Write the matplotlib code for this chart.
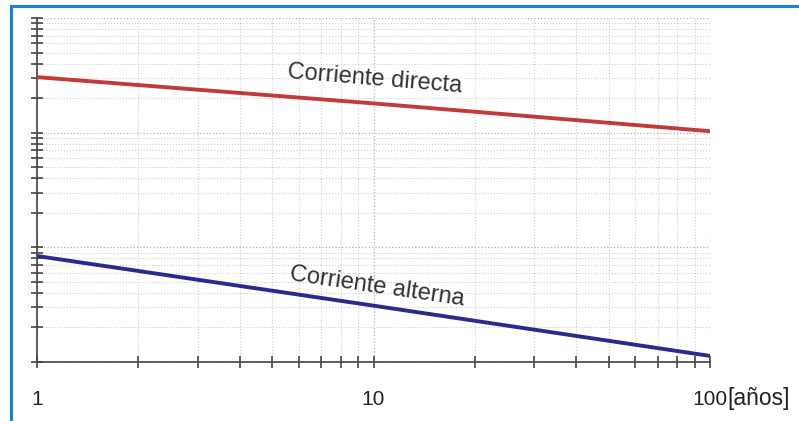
import matplotlib
matplotlib.use("Agg")
import matplotlib.pyplot as plt
from matplotlib.patches import Rectangle
from matplotlib.ticker import LogLocator, NullFormatter, FixedLocator, FixedFormatter

plt.rcParams['font.family'] = ['Liberation Sans', 'DejaVu Sans']

# Data (years, arbitrary log scale values)
years = [1, 10, 100]
directa = [305, 180, 103]
alterna = [8.4, 3.1, 1.13]
xtick_vals = [1, 10, 100]
xtick_labels = ["1", "10", "100"]
label_directa = "Corriente directa"
label_alterna = "Corriente alterna"
unit_label = "[años]"

W, H = 799, 421
fig = plt.figure(figsize=(W/100, H/100), dpi=100)
ax = fig.add_axes([37/W, 1-362/H, (710-37)/W, (362-18)/H])

ax.set_xscale('log')
ax.set_yscale('log')
ax.set_xlim(1, 100)
ax.set_ylim(1, 1000)

ax.plot(years, directa, color='#c23a3a', lw=2.8, solid_capstyle='butt', zorder=3)
ax.plot(years, alterna, color='#2a2a8c', lw=2.8, solid_capstyle='butt', zorder=3)

for s in ['top', 'right']:
    ax.spines[s].set_visible(False)
for s in ['left', 'bottom']:
    ax.spines[s].set_color('#444444')
    ax.spines[s].set_linewidth(1.2)

ax.xaxis.set_major_locator(FixedLocator(xtick_vals))
ax.xaxis.set_major_formatter(FixedFormatter(xtick_labels))
ax.xaxis.set_minor_locator(LogLocator(base=10, subs=range(2, 10)))
ax.xaxis.set_minor_formatter(NullFormatter())
ax.yaxis.set_major_locator(LogLocator(base=10))
ax.yaxis.set_minor_locator(LogLocator(base=10, subs=range(2, 10)))
ax.yaxis.set_major_formatter(NullFormatter())
ax.yaxis.set_minor_formatter(NullFormatter())

ax.tick_params(which='both', direction='inout', color='#444444', width=1.2)
ax.tick_params(axis='x', which='both', length=9, labelsize=15, labelcolor='#222222', pad=16)
ax.tick_params(axis='y', which='both', length=8)

ax.grid(which='major', color='#b0b0b0', lw=0.9, ls=':')
ax.grid(which='minor', color='#cccccc', lw=0.8, ls=':')
ax.set_axisbelow(True)

fig.text(375/W, 1 - 79/H, label_directa, fontsize=17, color='#333333',
         ha='center', va='center', rotation=-4.7, rotation_mode='anchor')
fig.text(377/W, 1 - 287/H, label_alterna, fontsize=17, color='#333333',
         ha='center', va='center', rotation=-8.3, rotation_mode='anchor')
fig.text(727/W, 1 - 399/H, unit_label, fontsize=16.5, color='#222222', ha='left', va='center')

# blue frame
fig.add_artist(Rectangle((11/W, -0.05), 1.0, 1 - 6/H + 0.05, transform=fig.transFigure,
                         fill=False, edgecolor='#1e7fd6', lw=2.2))

fig.savefig('out.png', dpi=100)
